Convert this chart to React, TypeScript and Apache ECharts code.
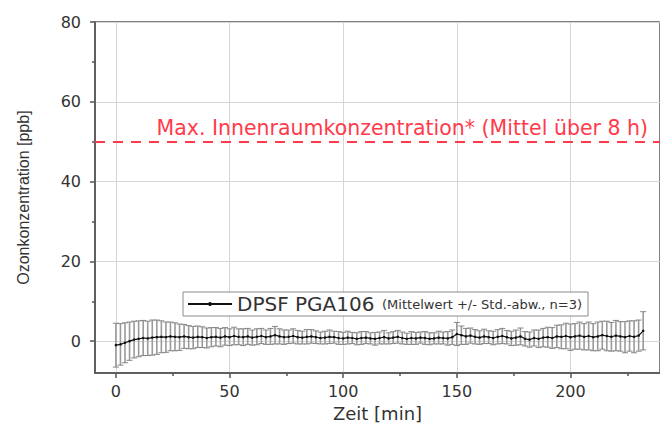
import React, { useEffect, useRef } from 'react';
import * as echarts from 'echarts';

const times = [
  0, 2, 4, 6, 8, 10, 12, 14, 16, 18, 20, 22, 24, 26, 28, 30, 32, 34, 36, 38,
  40, 42, 44, 46, 48, 50, 52, 54, 56, 58, 60, 62, 64, 66, 68, 70, 72, 74, 76, 78,
  80, 82, 84, 86, 88, 90, 92, 94, 96, 98, 100, 102, 104, 106, 108, 110, 112, 114, 116, 118,
  120, 122, 124, 126, 128, 130, 132, 134, 136, 138, 140, 142, 144, 146, 148, 150, 152, 154, 156, 158,
  160, 162, 164, 166, 168, 170, 172, 174, 176, 178, 180, 182, 184, 186, 188, 190, 192, 194, 196, 198,
  200, 202, 204, 206, 208, 210, 212, 214, 216, 218, 220, 222, 224, 226, 228, 230, 232,
];

const means = [
  -1.0, -0.8, -0.4, 0.0, 0.4, 0.6, 0.8, 0.7, 0.9, 1.0, 1.1, 1.0, 1.2, 1.1, 1.0, 1.2, 1.0, 0.9, 1.1, 1.0,
  0.8, 1.0, 1.1, 0.9, 1.2, 1.0, 1.3, 1.1, 1.0, 1.2, 0.9, 1.1, 1.3, 1.0, 1.2, 1.5, 1.2, 1.0, 1.1, 1.3,
  1.0, 0.9, 1.1, 1.2, 1.0, 0.8, 0.9, 1.1, 1.0, 0.8, 0.7, 0.9, 0.8, 0.6, 0.8, 0.9, 0.7, 0.6, 0.8, 1.0,
  0.7, 0.9, 1.1, 0.8, 0.6, 0.8, 0.7, 0.9, 0.8, 0.6, 0.7, 0.9, 0.8, 0.7, 1.0, 1.8, 1.5, 1.2, 1.4, 1.1,
  0.9, 1.2, 1.0, 0.8, 1.1, 1.3, 1.0, 0.7, 0.9, 1.2, 0.6, 0.4, 0.8, 0.6, 0.9, 1.0, 0.8, 1.2, 1.1, 1.3,
  1.0, 1.2, 1.4, 1.1, 1.3, 1.0, 1.2, 1.5, 1.3, 1.1, 1.4, 1.2, 1.0, 1.3, 1.1, 1.4, 2.6,
];

const stds = [
  5.5, 5.2, 5.0, 4.8, 4.6, 4.5, 4.4, 4.3, 4.4, 4.3, 4.0, 3.8, 3.6, 3.5, 3.3, 3.0, 2.9, 2.8, 2.7, 2.6,
  2.5, 2.4, 2.3, 2.3, 2.2, 2.1, 2.2, 2.0, 2.1, 2.0, 1.9, 2.0, 1.9, 1.8, 2.0, 2.2, 1.9, 1.8, 1.7, 1.8,
  1.7, 1.6, 1.8, 1.7, 1.6, 1.5, 1.6, 1.7, 1.5, 1.6, 1.5, 1.6, 1.4, 1.5, 1.6, 1.5, 1.4, 1.6, 1.5, 1.7,
  1.4, 1.5, 1.6, 1.5, 1.4, 1.6, 1.5, 1.4, 1.6, 1.5, 1.4, 1.6, 1.5, 1.7, 1.8, 2.9, 2.3, 2.0, 1.9, 1.8,
  1.7, 1.8, 1.6, 1.7, 1.8, 1.9, 1.7, 1.8, 1.9, 2.1, 1.8, 1.9, 2.0, 2.2, 2.3, 2.5, 2.6, 2.8, 3.0, 3.2,
  3.3, 3.2, 3.4, 3.3, 3.5, 3.4, 3.6, 3.5, 3.7, 3.6, 3.8, 3.7, 3.9, 3.8, 4.0, 3.9, 4.8,
];

const xTickValues = [0, 50, 100, 150, 200];
const xMinorTickValues = [25, 75, 125, 175, 225];
const yTickValues = [0, 20, 40, 60, 80];
const yMinorTickValues = [10, 30, 50, 70];
const limitValue = 50;

const seriesName = 'DPSF PGA106';
const seriesNote = '(Mittelwert +/- Std.-abw., n=3)';
const limitLabel = 'Max. Innenraumkonzentration* (Mittel über 8 h)';
const xName = 'Zeit [min]';
const yName = 'Ozonkonzentration [ppb]';

const FONT = 'DejaVu Sans';
const TEXT = '#333333';
const AXIS = '#555555';
const RED = '#ff3b4b';

export default function App() {
  const ref = useRef<HTMLDivElement>(null);

  useEffect(() => {
    if (!ref.current) return;
    const chart = echarts.init(ref.current, undefined, { renderer: 'svg' });

    const xMin = -9.2;
    const xMax = 239.4;
    const yMin = -8;
    const yMax = 80;

    const errData = times.map((t, i) => [t, means[i] - stds[i], means[i] + stds[i]]);
    const lineData = times.map((t, i) => [t, means[i]]);

    const option: any = {
      animation: false,
      backgroundColor: '#ffffff',
      textStyle: { fontFamily: FONT },
      grid: {
        left: 95,
        top: 22,
        right: -3,
        bottom: 53,
        show: true,
        borderColor: AXIS,
        borderWidth: 1.5,
        backgroundColor: 'transparent',
      },
      legend: {
        data: [{ name: seriesName, itemStyle: { borderWidth: 0 } }],
        left: 183,
        top: 292,
        padding: [2, 6, 2, 4],
        borderColor: '#8a8a8a',
        borderWidth: 1,
        backgroundColor: '#ffffff',
        itemWidth: 44,
        itemHeight: 5,
        itemGap: 4,
        formatter: (name: string) => `{a|${name}}  {b|${seriesNote}}`,
        textStyle: {
          fontFamily: FONT,
          color: TEXT,
          rich: {
            a: { fontSize: 20, color: TEXT, fontFamily: FONT },
            b: { fontSize: 13, color: TEXT, fontFamily: FONT },
          },
        },
      },
      xAxis: [
        {
          type: 'value',
          min: xMin,
          max: xMax,
          name: xName,
          nameLocation: 'middle',
          nameGap: 28,
          nameTextStyle: { fontSize: 18, color: TEXT, fontFamily: FONT },
          axisLine: { show: true, onZero: false, lineStyle: { color: AXIS, width: 1.5 } },
          axisTick: { show: true, length: 5, customValues: xTickValues, lineStyle: { color: AXIS, width: 1.5 } },
          axisLabel: { customValues: xTickValues, fontSize: 16, color: TEXT, margin: 10, fontFamily: FONT },
          splitLine: { show: true, lineStyle: { color: '#d6d6d6', width: 1 } },
        },
        {
          type: 'value',
          min: xMin,
          max: xMax,
          position: 'bottom',
          axisLine: { show: false, onZero: false },
          axisTick: { show: true, length: 3, customValues: xMinorTickValues, lineStyle: { color: AXIS, width: 1.5 } },
          axisLabel: { show: false },
          splitLine: { show: false },
        },
      ],
      yAxis: [
        {
          type: 'value',
          min: yMin,
          max: yMax,
          name: yName,
          nameLocation: 'middle',
          nameGap: 64,
          nameRotate: 90,
          nameTextStyle: { fontSize: 16, color: TEXT, fontFamily: 'Liberation Sans' },
          axisLine: { show: true, onZero: false, lineStyle: { color: AXIS, width: 1.5 } },
          axisTick: { show: true, length: 5, customValues: yTickValues, lineStyle: { color: AXIS, width: 1.5 } },
          axisLabel: { customValues: yTickValues, fontSize: 16, color: TEXT, margin: 14, fontFamily: FONT },
          splitLine: { show: true, lineStyle: { color: '#d6d6d6', width: 1 } },
        },
        {
          type: 'value',
          min: yMin,
          max: yMax,
          position: 'left',
          axisLine: { show: false, onZero: false },
          axisTick: { show: true, length: 3, customValues: yMinorTickValues, lineStyle: { color: AXIS, width: 1.5 } },
          axisLabel: { show: false },
          splitLine: { show: false },
        },
      ],
      series: [
        {
          type: 'custom',
          name: 'err',
          xAxisIndex: 0,
          yAxisIndex: 0,
          silent: true,
          z: 2,
          encode: { x: 0, y: [1, 2] },
          data: errData,
          renderItem: (_params: any, api: any) => {
            const x = api.value(0);
            const lo = api.coord([x, api.value(1)]);
            const hi = api.coord([x, api.value(2)]);
            const w = 3;
            const barStyle = { stroke: '#9a9a9a', lineWidth: 1.6 };
            const capStyle = { stroke: '#7a7a7a', lineWidth: 0.9 };
            return {
              type: 'group',
              children: [
                { type: 'line', shape: { x1: lo[0], y1: lo[1], x2: hi[0], y2: hi[1] }, style: barStyle },
                { type: 'line', shape: { x1: lo[0] - w, y1: lo[1], x2: lo[0] + w, y2: lo[1] }, style: capStyle },
                { type: 'line', shape: { x1: hi[0] - w, y1: hi[1], x2: hi[0] + w, y2: hi[1] }, style: capStyle },
              ],
            };
          },
        },
        {
          type: 'line',
          name: seriesName,
          xAxisIndex: 0,
          yAxisIndex: 0,
          data: lineData,
          z: 3,
          symbol: 'circle',
          symbolSize: 2.5,
          showSymbol: true,
          lineStyle: { color: '#111111', width: 1.2 },
          itemStyle: { color: '#111111' },
          markLine: {
            silent: true,
            symbol: ['none', 'none'],
            lineStyle: { color: RED, width: 2, type: [10, 8] },
            label: {
              show: true,
              position: 'insideEndTop',
              formatter: limitLabel,
              color: RED,
              fontSize: 20.5,
              fontFamily: FONT,
              distance: [12, 3],
            },
            data: [{ yAxis: limitValue }],
          },
        },
      ],
    };

    chart.setOption(option);
    return () => chart.dispose();
  }, []);

  return (
    <div
      ref={ref}
      style={{ position: 'fixed', left: 0, top: 0, width: 660, height: 427 }}
    />
  );
}
